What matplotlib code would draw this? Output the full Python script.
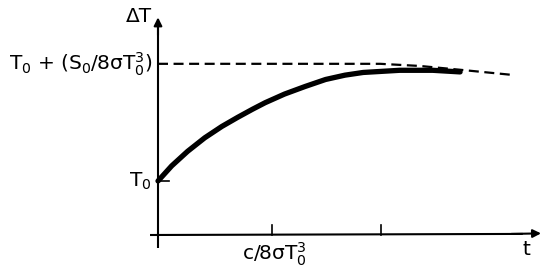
import matplotlib
matplotlib.use("Agg")
import matplotlib.pyplot as plt

# temperature response, time in units of c/8σT0^3, ΔT in units of T0
t_curve = [0.0, 0.12, 0.26, 0.41, 0.56, 0.70, 0.83, 0.94, 1.11, 1.29,
           1.47, 1.64, 1.80, 2.12, 2.41, 2.65]
dT_curve = [1.0, 1.28, 1.55, 1.80, 2.01, 2.18, 2.33, 2.45, 2.61, 2.75,
            2.88, 2.96, 3.01, 3.05, 3.05, 3.02]

# equilibrium level (dashed)
t_eq = [0.0, 1.95, 2.30, 2.65, 3.13]
dT_eq = [3.17, 3.17, 3.13, 3.06, 2.96]

x_ticks = [1.0, 1.96]
x_tick_labels = ['c/8σT$_0^3$', '']
T0_level = 1.0
eq_label = 'T$_0$ + (S$_0$/8σT$_0^3$)'

plt.rcParams['mathtext.fontset'] = 'dejavusans'

fig = plt.figure(figsize=(5.5, 2.67), dpi=100)
ax = fig.add_axes([0, 0, 1, 1])
# 1 time unit = 114 px, 1 T0 = 54 px, origin at pixel (158, 235)
ax.set_xlim(-158 / 114, (550 - 158) / 114)
ax.set_ylim(-(267 - 235) / 54, 235 / 54)
ax.axis('off')

# axes with arrows
ax.plot([0, 0], [-0.24, 4.0], 'k-', lw=1.5, solid_capstyle='butt')
ax.annotate('', xy=(0, 4.03), xytext=(0, 3.7),
            arrowprops=dict(arrowstyle='-|>', color='k', lw=1.5,
                            mutation_scale=12, shrinkA=0, shrinkB=0))
ax.plot([-0.07, 3.2], [0, 0.02], 'k-', lw=1.5, solid_capstyle='butt')
ax.annotate('', xy=(3.36, 0.03), xytext=(3.1, 0.02),
            arrowprops=dict(arrowstyle='-|>', color='k', lw=1.5,
                            mutation_scale=12, shrinkA=0, shrinkB=0))

# ticks
for xt in x_ticks:
    ax.plot([xt, xt], [0, 0.19], 'k-', lw=1.2)
ax.plot([0, 0.1], [T0_level, T0_level], 'k-', lw=1.2)

# curves
ax.plot(t_eq, dT_eq, color='k', lw=1.6, linestyle=(0, (4.5, 2.5)))
ax.plot(t_curve, dT_curve, color='k', lw=3.8, solid_capstyle='round',
        solid_joinstyle='round')

# labels
fs = 14.5
ax.text(-0.05, dT_eq[0], eq_label, ha='right', va='center', fontsize=fs)
ax.text(-0.06, T0_level, 'T$_0$', ha='right', va='center', fontsize=fs)
ax.text(-0.05, 4.05, 'ΔT', ha='right', va='center', fontsize=fs)
ax.text(x_ticks[0] + 0.02, -0.1, x_tick_labels[0], ha='center', va='top', fontsize=fs)
ax.text(3.23, -0.1, 't', ha='center', va='top', fontsize=fs)

fig.savefig('out.png', dpi=100)
